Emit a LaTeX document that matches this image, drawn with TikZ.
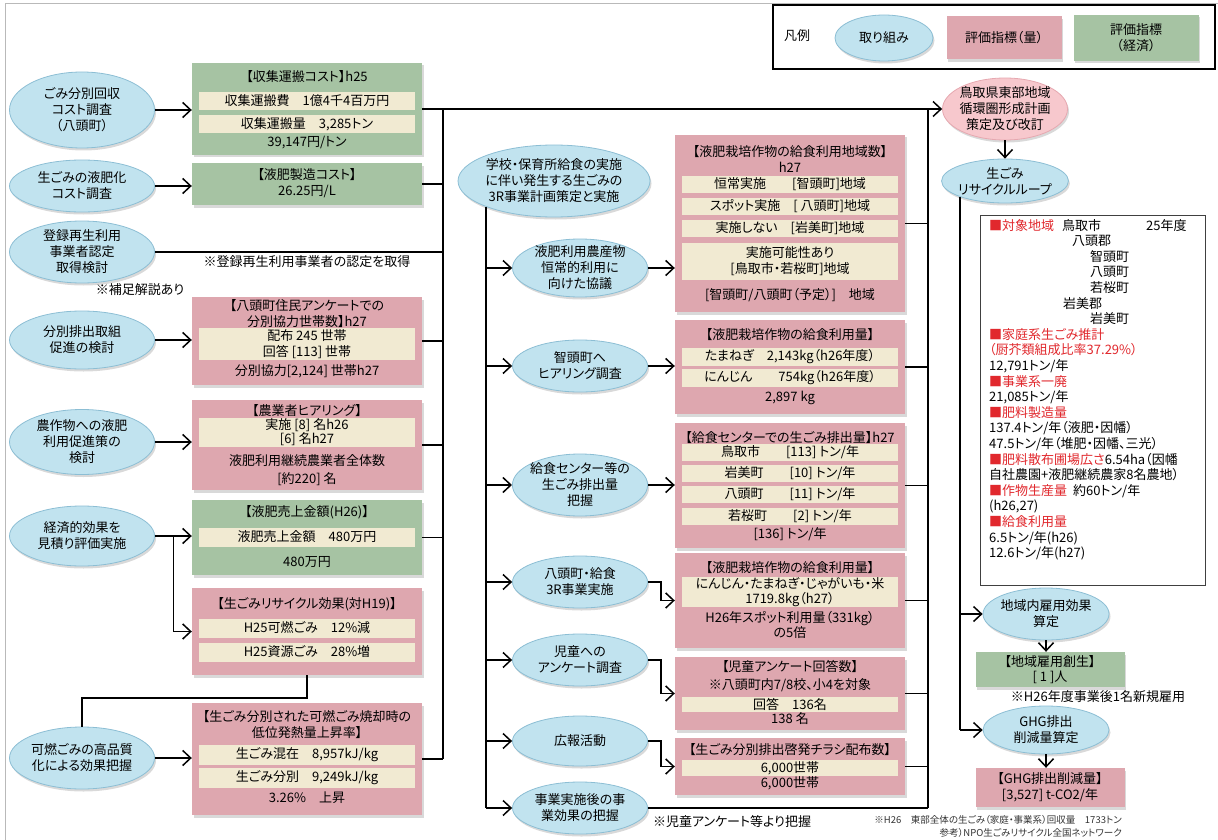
\documentclass[tikz,border=0pt]{standalone}
\usepackage{fontspec}
\setmainfont{Noto Sans CJK JP}[RawFeature=+palt]
\usetikzlibrary{arrows.meta,calc,positioning,shapes.geometric,shadows}

\definecolor{actFill}{RGB}{193,227,239}
\definecolor{actLine}{RGB}{140,190,212}
\definecolor{qtyFill}{RGB}{222,167,175}
\definecolor{ecoFill}{RGB}{166,195,163}
\definecolor{barFill}{RGB}{241,234,210}
\definecolor{planFill}{RGB}{247,200,205}
\definecolor{planLine}{RGB}{230,168,176}
\definecolor{markRed}{RGB}{225,40,45}

\begin{document}
\begin{tikzpicture}[x=1pt, y=-1pt, font=\fontsize{13}{16}\selectfont,
    lift/.style ={drop shadow={opacity=0.3, shadow xshift=1.5pt, shadow yshift=-2.5pt}},
    act/.style  ={ellipse, fill=actFill, draw=actLine, line width=0.8pt, inner sep=-2pt, align=center, minimum width=145pt, lift},
    qty/.style  ={rectangle, fill=qtyFill, minimum width=230pt, inner sep=0, lift},
    eco/.style  ={rectangle, fill=ecoFill, minimum width=230pt, inner sep=0, lift},
    bar/.style  ={rectangle, fill=barFill, minimum width=216pt, inner sep=0, align=center},
    txt/.style  ={inner sep=0, align=center},
    link/.style ={draw=black, line width=1.5pt},
    arr/.style  ={link, -{Straight Barb[length=8pt,width=15pt,line width=1.5pt]}}]

  \useasboundingbox (0,0) rectangle (1218,840);
  \draw[gray!55, line width=0.8pt] (5,840) -- (5,3) -- (1218,3);
  \coordinate (lbus) at (443,0);
  \coordinate (rbus) at (928,0);

  % legend
  \node[draw=black, line width=1.5pt, fill=white, minimum width=442pt, minimum height=64pt] at (994,37) (legend) {};
  \node[txt] at (797,36) (legTitle) {凡例};
  \node[act, minimum width=98pt, minimum height=46pt] at (884,38) (legAct) {取り組み};
  \node[qty, minimum width=115pt, minimum height=43pt] at (1004,38) (legQty) {評価指標（量）};
  \node[eco, minimum width=125pt, minimum height=46pt, align=center] at (1136,38) (legEco) {評価指標\\（経済）};

  % left column
  \node[act, minimum height=76pt] at (82,110) (haulSv) {ごみ分別回収\\コスト調査\\（八頭町）};
  \node[eco, minimum height=92pt] at (307,109) (haulBox) {};
  \node[txt] at (307,77) (haulTtl) {【収集運搬コスト】h25};
  \node[bar, minimum height=18pt] at (307,101) (haulFee) {収集運搬費　1億4千4百万円};
  \node[bar, minimum height=18pt] at (307,124) (haulAmt) {収集運搬量　3,285トン};
  \node[txt] at (307,143) (haulUnit) {39,147円/トン};

  \node[act, minimum height=52pt] at (82,186) (liqSv) {生ごみの液肥化\\コスト調査};
  \node[eco, minimum height=42pt] at (307,184) (liqBox) {};
  \node[txt] at (307,175) (liqTtl) {【液肥製造コスト】};
  \node[txt] at (307,192) (liqUnit) {26.25円/L};

  \node[act, minimum height=62pt] at (82,252) (regSv) {登録再生利用\\事業者認定\\取得検討};
  \node[txt] at (307,262) (regNote) {※登録再生利用事業者の認定を取得};
  \node[txt] at (140,290) (suppNote) {※補足解説あり};

  \node[act, minimum height=58pt] at (82,340) (sortSv) {分別排出取組\\促進の検討};
  \node[qty, minimum height=88pt] at (307,341) (sortBox) {};
  \node[txt] at (307,314) (sortTtl) {【八頭町住民アンケートでの\\分別協力世帯数】h27};
  \node[bar, minimum height=32pt] at (307,344) (sortBar) {配布 245 世帯\\回答 {[113]} 世帯};
  \node[txt] at (307,371) (sortCoop) {分別協力{[2,124]} 世帯h27};

  \node[act, minimum height=65pt] at (82,442) (farmSv) {農作物への液肥\\利用促進策の\\検討};
  \node[qty, minimum height=90pt] at (307,445) (farmBox) {};
  \node[txt] at (307,411) (farmTtl) {【農業者ヒアリング】};
  \node[bar, minimum height=29pt, font=\fontsize{13}{14}\selectfont] at (307,432) (farmBar) {実施 {[8]} 名h26\\{[6]} 名h27};
  \node[txt, font=\fontsize{13}{18}\selectfont] at (307,470) (farmAll) {液肥利用継続農業者全体数\\{[約220]} 名};

  \node[act, minimum height=60pt] at (82,536) (econSv) {経済的効果を\\見積り評価実施};
  \node[eco, minimum height=75pt] at (307,537.5) (saleBox) {};
  \node[txt] at (307,512) (saleTtl) {【液肥売上金額(H26)】};
  \node[bar, minimum height=19pt] at (307,537) (saleBar) {液肥売上金額　480万円};
  \node[txt] at (307,562) (saleSum) {480万円};

  \node[qty, minimum height=87pt] at (307,631.5) (effBox) {};
  \node[txt] at (307,604) (effTtl) {【生ごみリサイクル効果(対H19)】};
  \node[bar, minimum height=19pt] at (307,628) (effBurn) {H25可燃ごみ　12\%減};
  \node[bar, minimum height=19pt] at (307,652) (effRes) {H25資源ごみ　28\%増};

  \node[act, minimum height=62pt] at (82,758) (burnSv) {可燃ごみの高品質\\化による効果把握};
  \node[qty, minimum height=112pt] at (307,759) (heatBox) {};
  \node[txt] at (307,725) (heatTtl) {【生ごみ分別された可燃ごみ焼却時の\\低位発熱量上昇率】};
  \node[bar, minimum height=20pt] at (307,755) (heatMix) {生ごみ混在　8,957kJ/kg};
  \node[bar, minimum height=20pt] at (307,778) (heatSep) {生ごみ分別　9,249kJ/kg};
  \node[txt] at (307,798) (heatRise) {3.26\%　上昇};

  % middle column
  \node[act, minimum width=192pt, minimum height=72pt] at (554,181) (school) {学校・保育所給食の実施\\に伴い発生する生ごみの\\3R事業計画策定と実施};
  \node[act, minimum width=135pt, minimum height=58pt] at (580,268) (useSv) {液肥利用農産物\\恒常的利用に\\向けた協議};
  \node[act, minimum width=135pt, minimum height=52pt] at (580,366) (hearSv) {智頭町へ\\ヒアリング調査};
  \node[act, minimum width=135pt, minimum height=62pt] at (580,485) (centerSv) {給食センター等の\\生ごみ排出量\\把握};
  \node[act, minimum width=135pt, minimum height=52pt] at (580,582) (yazuSv) {八頭町・給食\\3R事業実施};
  \node[act, minimum width=135pt, minimum height=52pt] at (580,660) (childSv) {児童への\\アンケート調査};
  \node[act, minimum width=135pt, minimum height=50pt] at (580,741) (prSv) {広報活動};
  \node[act, minimum width=135pt, minimum height=52pt] at (580,808) (lateSv) {事業実施後の事\\業効果の把握};
  \node[txt] at (732,822) (lateNote) {※児童アンケート等より把握};

  \node[qty, minimum height=177pt] at (790,223.5) (areaUse) {};
  \node[txt] at (790,159.5) (areaTtl) {【液肥栽培作物の給食利用地域数】\\h27};
  \node[bar, minimum height=17pt] at (790,184) (areaBar1) {恒常実施　　{[智頭町]}地域};
  \node[bar, minimum height=17pt] at (790,206) (areaBar2) {スポット実施　{[ 八頭町]}地域};
  \node[bar, minimum height=17pt] at (790,228) (areaBar3) {実施しない　{[岩美町]}地域};
  \node[bar, minimum height=37pt] at (790,261) (areaBar4) {実施可能性あり\\{[鳥取市・若桜町]}地域};
  \node[txt] at (790,295) (areaPlan) {{[智頭町/八頭町（予定）]}　地域};

  \node[qty, minimum height=94pt] at (790,367) (useAmt) {};
  \node[txt] at (790,335) (useTtl) {【液肥栽培作物の給食利用量】};
  \node[bar, minimum height=18pt] at (790,357) (useOnion) {たまねぎ　2,143kg（h26年度）};
  \node[bar, minimum height=18pt] at (790,378) (useCarrot) {にんじん　　754kg（h26年度）};
  \node[txt] at (790,398) (useSum) {2,897 kg};

  \node[qty, minimum height=125pt] at (790,485.5) (centerAmt) {};
  \node[txt] at (790,438) (centerTtl) {【給食センターでの生ごみ排出量】h27};
  \node[bar, minimum height=17pt] at (790,452) (centerBar1) {鳥取市　　{[113]} トン/年};
  \node[bar, minimum height=17pt] at (790,473) (centerBar2) {岩美町　　{[10]} トン/年};
  \node[bar, minimum height=17pt] at (790,494) (centerBar3) {八頭町　　{[11]} トン/年};
  \node[bar, minimum height=17pt] at (790,516) (centerBar4) {若桜町　　{[2]} トン/年};
  \node[txt] at (790,534) (centerSum) {{[136]} トン/年};

  \node[qty, minimum height=95pt] at (790,600.5) (yazuAmt) {};
  \node[txt] at (790,568) (yazuTtl) {【液肥栽培作物の給食利用量】};
  \node[bar, minimum height=30pt, font=\fontsize{13}{15}\selectfont] at (790,592) (yazuBar) {にんじん・たまねぎ・じゃがいも・米\\1719.8kg（h27）};
  \node[txt, font=\fontsize{13}{15}\selectfont] at (790,625) (yazuCmp) {H26年スポット利用量（331kg）\\の5倍};

  \node[qty, minimum height=73pt] at (790,693.5) (childAns) {};
  \node[txt, font=\fontsize{13}{18}\selectfont] at (790,676) (childTtl) {【児童アンケート回答数】\\※八頭町内7/8校、小4を対象};
  \node[bar, minimum height=15pt] at (790,704) (childBar) {回答　136名};
  \node[txt] at (790,719) (childSum) {138 名};

  \node[qty, minimum height=57pt] at (790,766.5) (flyer) {};
  \node[txt] at (790,750) (flyerTtl) {【生ごみ分別排出啓発チラシ配布数】};
  \node[bar, minimum height=16pt] at (790,768) (flyerBar) {6,000世帯};
  \node[txt] at (790,783) (flyerSum) {6,000世帯};

  % right column
  \node[act, fill=planFill, draw=planLine, minimum width=125pt, minimum height=62pt] at (1005,109) (plan) {鳥取県東部地域\\循環圏形成計画\\策定及び改訂};
  \node[act, minimum width=125pt, minimum height=44pt] at (1005,181) (loop) {生ごみ\\リサイクルループ};

  \node[draw=black!75, line width=0.9pt, fill=white, minimum width=225pt, minimum height=370pt] at (1092.5,400) (areaBox) {};
  \node[anchor=north west, align=left, inner sep=0, font=\fontsize{13}{15.6}\selectfont] at (989,219) (areaTxt) {%
    {\color{markRed}■対象地域}\hspace{8pt}鳥取市\hspace{45pt}25年度\\
    \hspace*{83pt}八頭郡\\
    \hspace*{101pt}智頭町\\
    \hspace*{101pt}八頭町\\
    \hspace*{101pt}若桜町\\
    \hspace*{74pt}岩美郡\\
    \hspace*{101pt}岩美町\\
    {\color{markRed}■家庭系生ごみ推計}\\
    {\color{markRed}（厨芥類組成比率37.29\%）}\\
    12,791トン/年\\
    {\color{markRed}■事業系一廃}\\
    21,085トン/年\\
    {\color{markRed}■肥料製造量}\\
    137.4トン/年（液肥・因幡）\\
    47.5トン/年（堆肥・因幡、三光）\\
    {\color{markRed}■肥料散布圃場広さ}6.54ha（因幡\\
    自社農園+液肥継続農家8名農地）\\
    {\color{markRed}■作物生産量}\hspace{6pt}約60トン/年\\
    (h26,27)\\
    {\color{markRed}■給食利用量}\\
    6.5トン/年(h26)\\
    12.6トン/年(h27)};

  \node[act, minimum width=126pt, minimum height=52pt] at (1046,614) (jobSv) {地域内雇用効果\\算定};
  \node[eco, minimum width=149pt, minimum height=35pt, align=center, font=\fontsize{13}{15}\selectfont] at (1050,669.5) (jobBox) {【地域雇用創生】\\{[ 1 ]}人};
  \node[txt] at (1098,697) (jobNote) {※H26年度事業後1名新規雇用};
  \node[act, minimum width=126pt, minimum height=48pt] at (1046,730) (ghgSv) {GHG排出\\削減量算定};
  \node[qty, minimum width=149pt, minimum height=39pt, align=center] at (1050,787.5) (ghgBox) {【GHG排出削減量】\\{[3,527]} t-CO2/年};
  \node[anchor=east, align=right, inner sep=0, text=black!80, font=\fontsize{9.5}{13}\selectfont] at (1122,826) (srcNote) {※H26　東部全体の生ごみ（家庭・事業系）回収量　1733トン\\参考）NPO生ごみリサイクル全国ネットワーク};

  % connectors, left column
  \draw[arr] (haulSv.east) -- (haulSv.east -| haulBox.west);
  \draw[arr] (liqSv.east) -- (liqSv.east -| liqBox.west);
  \draw[arr] (sortSv.east) -- (sortSv.east -| sortBox.west);
  \draw[arr] (farmSv.east) -- (farmSv.east -| farmBox.west);
  \draw[arr] (econSv.east) -- (econSv.east -| saleBox.west);
  \coordinate (split) at ($(econSv.east)!0.5!(saleBox.west)$);
  \draw[arr] (split) |- (effBox.west);
  \draw[link] (effBox.south) -- ++(0,23) -| (burnSv.north);
  \draw[arr] (burnSv.east) -- (burnSv.east -| heatBox.west);

  \draw[arr] (haulBox.east) -- (haulBox.east -| plan.west);
  \draw[link] (lbus |- haulBox.east) -- (lbus |- heatBox.east);
  \draw[link] (liqBox.east) -- (liqBox.east -| lbus);
  \draw[link] (regSv.east) -- (regSv.east -| lbus);
  \draw[link] (sortBox.east) -- (sortBox.east -| lbus);
  \draw[link] (farmBox.east) -- (farmBox.east -| lbus);
  \draw[link] (saleBox.east) -- (saleBox.east -| lbus);
  \draw[link] (heatBox.east) -- (heatBox.east -| lbus);

  % connectors, middle column
  \draw[link] (school.south west) -- (school.south west |- lateSv.west);
  \draw[arr] (school.south west |- useSv.west) -- (useSv.west);
  \draw[arr] (school.south west |- hearSv.west) -- (hearSv.west);
  \draw[arr] (school.south west |- centerSv.west) -- (centerSv.west);
  \draw[arr] (school.south west |- yazuSv.west) -- (yazuSv.west);
  \draw[arr] (school.south west |- childSv.west) -- (childSv.west);
  \draw[arr] (school.south west |- prSv.west) -- (prSv.west);
  \draw[arr] (school.south west |- lateSv.west) -- (lateSv.west);

  \draw[arr] (useSv.east) -- (useSv.east -| areaUse.west);
  \draw[arr] (hearSv.east) -- (hearSv.east -| useAmt.west);
  \draw[arr] (centerSv.east) -- (centerSv.east -| centerAmt.west);
  \draw[arr] (yazuSv.east) -- ++(13,0) |- (yazuAmt.west);
  \draw[arr] (childSv.east) -- ++(13,0) |- (childAns.west);
  \draw[arr] (prSv.east) -- ++(13,0) |- (flyer.west);

  \draw[link] (rbus |- haulBox.east) -- (rbus |- lateSv.east);
  \draw[link] (areaUse.east) -- (areaUse.east -| rbus);
  \draw[link] (useAmt.east) -- (useAmt.east -| rbus);
  \draw[link] (centerAmt.east) -- (centerAmt.east -| rbus);
  \draw[link] (yazuAmt.east) -- (yazuAmt.east -| rbus);
  \draw[link] (childAns.east) -- (childAns.east -| rbus);
  \draw[link] (flyer.east) -- (flyer.east -| rbus);
  \draw[link] (lateSv.east) -- (lateSv.east -| rbus);

  % connectors, right column
  \draw[arr] (plan.south) -- (loop.north);
  \draw[link] (loop.south west) -- (loop.south west |- ghgSv.west);
  \draw[arr] (loop.south west |- jobSv.west) -- (jobSv.west);
  \draw[arr] (loop.south west |- ghgSv.west) -- (ghgSv.west);
  \draw[arr] (jobSv.south) -- (jobSv.south |- jobBox.north);
  \draw[arr] (ghgSv.south) -- (ghgSv.south |- ghgBox.north);
\end{tikzpicture}
\end{document}
